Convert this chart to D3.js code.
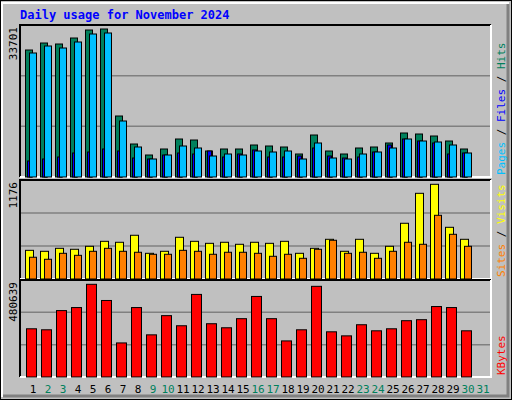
<!DOCTYPE html>
<html><head><meta charset="utf-8">
<script src="https://cdn.jsdelivr.net/npm/d3@7"></script>
<style>body{margin:0;background:#fff}svg{display:block}</style>
</head><body>
<script>
// daily figures, November 2024
var days = d3.range(1, 32);
var weekend = [2, 3, 9, 10, 16, 17, 23, 24, 30, 31];
var hits = [28918,30512,30284,31650,33472,33701,13890,7514,5009,6376,8653,8425,5920,6376,6376,7286,7059,6831,5237,9563,5920,5237,6603,6831,7742,10019,9791,9336,8197,6376];
var files = [3643,4099,4554,5465,5693,6376,5920,4326,4099,5009,5465,5237,5920,4554,5237,6148,4554,4554,4782,6603,4782,4326,4554,5693,7286,8653,8197,7742,5237,5465];
var pages = [28235,29829,29373,30740,32561,32789,12751,6831,4099,5009,7059,6603,4782,5237,5009,5920,5693,5920,4099,7742,4326,4099,5237,5693,6603,8653,8197,7970,7286,5465];
var visits = [356,344,381,369,406,468,456,543,319,344,518,468,443,456,431,456,443,468,319,381,493,344,493,319,406,692,1064,1176,642,493];
var sites = [270,245,319,294,344,381,344,332,307,307,356,344,307,332,332,319,282,307,257,369,481,319,332,257,344,456,431,791,555,406];
var kbytes = [249996,244755,344334,360057,480639,396741,176622,360057,218550,318129,265719,428187,276201,255237,302403,417705,302403,187101,244755,470118,234273,213309,270960,239514,249996,291921,297162,365298,360057,239514];

var W = 512, H = 400, L = 20, R = 491;
var svg = d3.select("body").append("svg").attr("width", W).attr("height", H);
var mono = "DejaVu Sans Mono, monospace";

svg.append("rect").attr("x", 0.5).attr("y", 0.5).attr("width", W - 1).attr("height", H - 1).attr("fill", "#c0c0c0").attr("stroke", "#000");
svg.append("path").attr("d", "M2,397V3H509").attr("fill", "none").attr("stroke", "#fff").attr("stroke-width", 2);
svg.append("path").attr("d", "M508,4V396H3").attr("fill", "none").attr("stroke", "#808080").attr("stroke-width", 3);

svg.append("text").attr("x", 20).attr("y", 19).attr("fill", "#0000ff").attr("font-family", mono)
  .attr("font-weight", "bold").attr("font-size", 12).text("Daily usage for November 2024");

var x = d3.scaleBand().domain(days).range([L, L + 15 * 31]);

function panel(top, bottom, maxVal, maxY, label, series, legend) {
  var y = d3.scaleLinear().domain([0, maxVal]).range([bottom, maxY]);
  var g = svg.append("g");
  var step = (bottom - top) / 3;
  [1, 2].forEach(function (k) {
    g.append("line").attr("x1", L).attr("x2", R).attr("y1", top + step * k).attr("y2", top + step * k)
      .attr("stroke", "#808080").attr("stroke-width", 1.5);
  });
  g.append("path").attr("d", "M" + L + "," + bottom + "V" + top + "H" + R).attr("fill", "none").attr("stroke", "#000").attr("stroke-width", 2);
  g.append("path").attr("d", "M" + R + "," + top + "V" + bottom + "H" + L).attr("fill", "none").attr("stroke", "#fff").attr("stroke-width", 2);
  series.forEach(function (s) {
    g.selectAll(null).data(s.data).join("rect")
      .attr("x", function (d, i) { return x(days[i]) + s.off; })
      .attr("y", function (d) { return y(d); })
      .attr("width", s.w)
      .attr("height", function (d) { return bottom - y(d); })
      .attr("fill", s.color).attr("stroke", "#000").attr("stroke-width", 1);
  });
  g.append("text").attr("transform", "translate(17," + (top + 2) + ") rotate(-90)")
    .attr("text-anchor", "end").attr("font-family", mono).attr("font-size", 11).text(label);
  var t = g.append("text").attr("transform", "translate(505," + (bottom - 2) + ") rotate(-90)")
    .attr("font-family", mono).attr("font-size", 11);
  legend.forEach(function (p, i) {
    if (i) t.append("tspan").attr("fill", "#000").text(" / ");
    t.append("tspan").attr("fill", p[1]).text(p[0]);
  });
}

panel(25, 177, 33701 * 148 / 148, 29, "33701", [
  { data: hits, color: "#00805c", off: 5.5, w: 7 },
  { data: files, color: "#0000ff", off: 7.5, w: 4 },
  { data: pages, color: "#00c0ff", off: 9.5, w: 7 }
], [["Pages", "#00c0ff"], ["Files", "#0000ff"], ["Hits", "#00805c"]]);

panel(180, 279, 1176, 184.3, "1176", [
  { data: visits, color: "#ffff00", off: 5.5, w: 8 },
  { data: sites, color: "#ff8000", off: 9.5, w: 7 }
], [["Sites", "#ff8000"], ["Visits", "#ffff00"]]);

panel(280, 377, 480639, 284.3, "480639", [
  { data: kbytes, color: "#ff0000", off: 6.5, w: 10 }
], [["KBytes", "#ff0000"]]);

svg.append("g").selectAll("text").data(days).join("text")
  .attr("x", function (d) { return x(d) + 13; })
  .attr("y", 393).attr("text-anchor", "middle")
  .attr("font-family", mono).attr("font-size", 11)
  .attr("fill", function (d) { return weekend.indexOf(d) >= 0 ? "#00805c" : "#000"; })
  .text(function (d) { return d; });
</script>
</body></html>
